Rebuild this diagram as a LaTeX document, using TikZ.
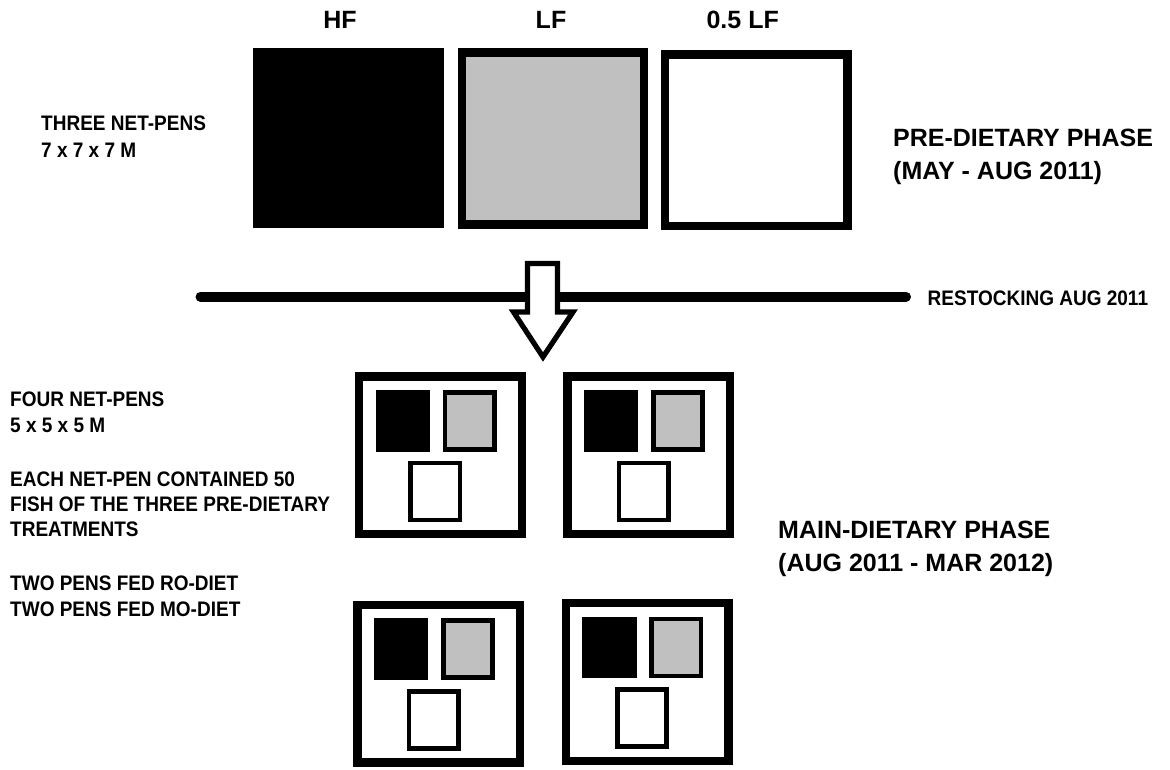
\documentclass[tikz,border=0pt]{standalone}
\usepackage{fontspec}
\newfontfamily\hdr{Liberation Sans}
\newfontfamily\nar{Liberation Sans}[FakeStretch=0.905]
\definecolor{penGray}{HTML}{C0C0C0}
\tikzset{
  lbl/.style={font=\hdr\bfseries\fontsize{25}{30}\selectfont, inner sep=0pt, anchor=base},
  headtxt/.style={font=\hdr\bfseries\fontsize{25}{30}\selectfont, inner sep=0pt, anchor=base west},
  notetxt/.style={font=\nar\bfseries\fontsize{21}{25}\selectfont, inner sep=0pt, anchor=base west},
  solidbox/.style={rectangle, draw=black, fill=black, line width=1pt, inner sep=0pt},
  bigframe/.style={rectangle, draw=black, line width=8.5pt, inner sep=0pt},
  penframe/.style={rectangle, draw=black, fill=white, line width=8.3pt, inner sep=0pt,
    minimum width=162.7pt, minimum height=157.7pt},
  minibox/.style={rectangle, draw=black, line width=4.7pt, inner sep=0pt,
    minimum width=49.3pt, minimum height=57pt},
  smallpen/.pic={
    \node[penframe] (-frame) at (85.5,83) {};
    \node[solidbox, minimum width=53.3pt, minimum height=60.7pt] (-hf) at (47.85,48.55) {};
    \node[minibox, fill=penGray] (-lf) at (114.7,48.55) {};
    \node[minibox, fill=white] (-half) at (80.3,119.2) {};
  }
}
\begin{document}
\begin{tikzpicture}[x=1pt,y=-1pt]
\useasboundingbox[fill=white] (0,0) rectangle (1170,769);

% pre-dietary phase
\node[solidbox, minimum width=190.4pt, minimum height=179pt] (hf) at (348.3,138.3) {};
\node[bigframe, fill=penGray, minimum width=182pt, minimum height=172pt] (lf) at (553,138.7) {};
\node[bigframe, fill=white, minimum width=182.7pt, minimum height=171.5pt] (half) at (756.3,140) {};

\node[lbl] (hflbl) at (340,28.5) {HF};
\node[lbl] (lflbl) at (551,28.5) {LF};
\node[lbl] (halflbl) at (742.7,28.5) {0.5 LF};

\node[notetxt] (three1) at (41,130) {THREE NET-PENS};
\node[notetxt] (three2) at (41,157) {7 x 7 x 7 M};

\node[headtxt] (pre1) at (893,146) {PRE-DIETARY PHASE};
\node[headtxt] (pre2) at (893,179) {(MAY - AUG 2011)};

% restocking line and arrow
\coordinate (lineL) at (200.5,296.7);
\coordinate (lineR) at (906,296.7);
\draw[line width=10pt, line cap=round] (lineL) -- (lineR);
\node[notetxt] (restock) at (927.5,305.5) {RESTOCKING AUG 2011};

\draw[line width=5.2pt, fill=white, line join=miter]
  (527.5,263.5) -- (557.5,263.5) -- (557.5,312) -- (573,312) -- (543,357)
  -- (513.5,312) -- (527.5,312) -- cycle;

% main-dietary phase pens
\pic (p1) at (355,372.3) {smallpen};
\pic (p2) at (563.3,372.3) {smallpen};
\pic (p3) at (353.3,600.7) {smallpen};
\pic (p4) at (561.7,599) {smallpen};

\node[notetxt] (four1) at (10,406) {FOUR NET-PENS};
\node[notetxt] (four2) at (10,432.7) {5 x 5 x 5 M};
\node[notetxt] (each1) at (10,486) {EACH NET-PEN CONTAINED 50};
\node[notetxt] (each2) at (10,511.7) {FISH OF THE THREE PRE-DIETARY};
\node[notetxt] (each3) at (10,536.7) {TREATMENTS};
\node[notetxt] (two1) at (10,590.7) {TWO PENS FED RO-DIET};
\node[notetxt] (two2) at (10,616) {TWO PENS FED MO-DIET};

\node[headtxt] (main1) at (778,538) {MAIN-DIETARY PHASE};
\node[headtxt] (main2) at (778,571) {(AUG 2011 - MAR 2012)};
\end{tikzpicture}
\end{document}
